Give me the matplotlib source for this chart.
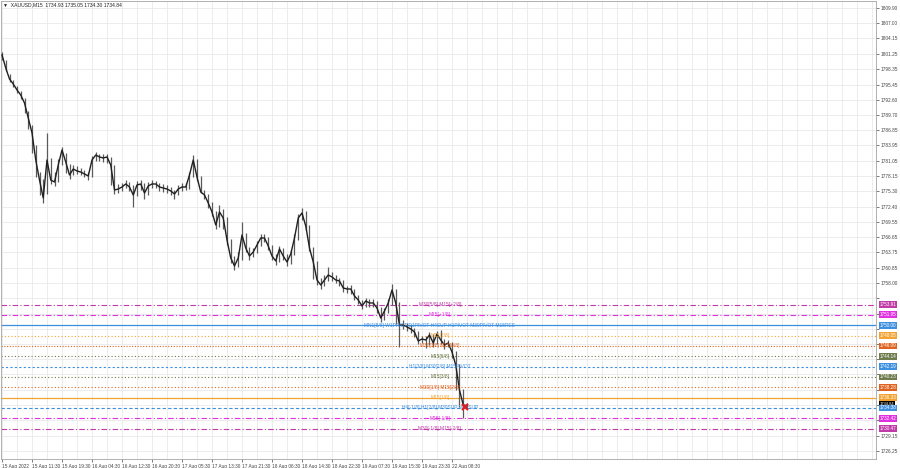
import numpy as np
import matplotlib
matplotlib.use('Agg')
import matplotlib.pyplot as plt
from matplotlib.ticker import MultipleLocator
from matplotlib.transforms import blended_transform_factory

plt.rcParams['font.family'] = ['Liberation Sans', 'DejaVu Sans']

# XAUUSD M15, one sample every 4 bars
close = [1801.03, 1798.57, 1796.49, 1795.55, 1794.42, 1793.47, 1791.96, 1789.13, 1786.30, 1781.20,
         1777.42, 1774.03, 1781.20, 1777.42, 1777.05, 1780.26, 1783.09, 1780.82, 1778.37, 1779.50,
         1779.12, 1778.93, 1778.56, 1778.18, 1781.20, 1782.14, 1781.77, 1781.58, 1781.77, 1780.26,
         1775.54, 1775.72, 1776.10, 1776.67, 1776.10, 1774.59, 1776.48, 1776.67, 1774.97, 1776.29,
         1776.67, 1776.67, 1776.10, 1775.91, 1775.72, 1775.35, 1774.78, 1775.72, 1776.10, 1776.10,
         1778.37, 1781.20, 1777.99, 1775.16, 1774.59, 1773.08, 1771.38, 1768.93, 1771.38, 1770.25,
         1766.09, 1762.70, 1761.19, 1762.70, 1767.04, 1764.58, 1763.07, 1763.83, 1765.15, 1766.47,
         1766.47, 1764.96, 1763.07, 1762.13, 1764.40, 1763.07, 1761.94, 1763.45, 1766.47, 1770.25,
         1771.19, 1768.74, 1764.58, 1761.94, 1758.54, 1757.60, 1758.54, 1759.49, 1759.11, 1758.54,
         1758.35, 1757.03, 1756.84, 1756.84, 1755.52, 1754.77, 1753.63, 1754.58, 1754.20, 1754.20,
         1753.25, 1751.37, 1752.69, 1754.20, 1756.65, 1754.20, 1750.04, 1750.04, 1749.67, 1749.29,
         1748.72, 1747.02, 1747.40, 1747.21, 1748.16, 1746.65, 1748.35, 1747.21, 1746.27, 1746.65,
         1744.95, 1742.49, 1737.77, 1734.94, 1734.84]
high = [1801.60, 1800.10, 1797.40, 1796.30, 1795.20, 1794.20, 1792.90, 1790.40, 1787.90, 1784.00,
        1778.90, 1777.60, 1786.30, 1781.50, 1779.00, 1781.40, 1783.65, 1782.60, 1780.40, 1780.30,
        1780.00, 1779.70, 1779.40, 1779.00, 1781.90, 1782.70, 1782.40, 1782.30, 1782.30, 1781.80,
        1780.30, 1776.60, 1776.90, 1777.40, 1777.00, 1776.40, 1777.20, 1777.40, 1776.80, 1777.00,
        1777.40, 1777.30, 1776.90, 1776.60, 1776.40, 1776.10, 1775.60, 1776.40, 1776.80, 1776.90,
        1778.90, 1782.14, 1781.40, 1778.20, 1775.60, 1774.80, 1773.20, 1771.50, 1772.70, 1771.90,
        1770.40, 1766.30, 1763.00, 1763.80, 1769.50, 1767.40, 1764.80, 1764.50, 1765.90, 1767.20,
        1767.30, 1766.60, 1765.10, 1763.40, 1765.00, 1764.60, 1763.40, 1764.20, 1767.20, 1771.00,
        1772.14, 1771.60, 1768.90, 1764.80, 1762.10, 1758.90, 1759.40, 1761.00, 1760.00, 1759.40,
        1759.00, 1758.50, 1757.50, 1757.60, 1756.90, 1755.80, 1754.80, 1755.20, 1755.00, 1754.90,
        1754.50, 1753.40, 1753.30, 1754.90, 1757.78, 1756.90, 1754.40, 1750.90, 1750.40, 1750.00,
        1749.50, 1748.90, 1748.00, 1747.90, 1748.70, 1748.30, 1748.90, 1749.10, 1747.40, 1747.20,
        1746.80, 1745.10, 1742.60, 1737.90, 1735.40]
low = [1800.00, 1798.00, 1795.90, 1794.90, 1793.80, 1792.80, 1790.00, 1787.00, 1782.50, 1778.00,
       1774.50, 1773.08, 1774.80, 1776.60, 1776.30, 1777.00, 1780.20, 1778.80, 1777.60, 1778.40,
       1778.50, 1778.30, 1777.90, 1777.50, 1778.00, 1781.10, 1781.00, 1780.90, 1780.60, 1776.50,
       1774.80, 1775.00, 1775.40, 1775.90, 1775.40, 1772.32, 1774.40, 1775.50, 1773.80, 1774.60,
       1776.00, 1775.90, 1775.40, 1775.20, 1775.00, 1774.60, 1773.80, 1774.50, 1775.40, 1775.50,
       1775.80, 1778.00, 1777.30, 1774.90, 1773.90, 1772.20, 1770.60, 1768.20, 1768.60, 1768.10,
       1765.20, 1761.80, 1760.43, 1761.00, 1762.40, 1763.80, 1762.40, 1762.80, 1763.60, 1765.00,
       1765.80, 1764.20, 1762.40, 1761.40, 1761.90, 1762.30, 1761.20, 1761.60, 1763.20, 1766.00,
       1769.80, 1768.00, 1764.00, 1758.80, 1757.60, 1756.90, 1757.40, 1758.30, 1758.40, 1757.90,
       1757.50, 1756.20, 1756.10, 1755.90, 1754.77, 1754.00, 1753.00, 1753.40, 1753.50, 1753.40,
       1752.40, 1750.60, 1751.00, 1752.40, 1753.90, 1750.20, 1745.89, 1749.30, 1748.90, 1748.60,
       1747.80, 1746.40, 1746.60, 1745.70, 1746.30, 1745.90, 1746.40, 1746.40, 1745.60, 1745.80,
       1743.90, 1737.80, 1734.60, 1732.48, 1734.30]
bar = np.arange(len(close)) * 4

date_labels = ["15 Aug 2022", "15 Aug 11:30", "15 Aug 19:30", "16 Aug 04:30", "16 Aug 12:30",
               "16 Aug 20:30", "17 Aug 05:30", "17 Aug 13:30", "17 Aug 21:30", "18 Aug 06:30",
               "18 Aug 14:30", "18 Aug 22:30", "19 Aug 07:30", "19 Aug 15:30", "19 Aug 23:30",
               "22 Aug 08:30"]
date_bars = np.arange(len(date_labels)) * 32

price_ticks = [1809.90, 1807.00, 1804.15, 1801.25, 1798.35, 1795.45, 1792.60, 1789.70, 1786.85,
               1783.95, 1781.05, 1778.15, 1775.30, 1772.40, 1769.55, 1766.65, 1763.75, 1760.85,
               1758.00, 1755.10, 1752.20, 1749.35, 1746.45, 1743.55, 1740.70, 1737.80, 1734.90,
               1732.05, 1729.15, 1726.25]

# murrey levels
levels = [1753.91, 1751.95, 1750.00, 1748.05, 1746.09, 1744.14, 1742.19,
          1740.23, 1738.28, 1736.33, 1734.38, 1732.42, 1730.47]
level_names = ["M30[5/8] M15[+2/8]", "M15[+1/8]",
               "MN1[8/8] W1PIVOT D1PIVOT H4SUP H1PIVOT M30PIVOT M15RES",
               "M15[7/8]", "M30[3/8] M15[6/8]", "M15[5/8]", "H1[3/8] M30[2/8] M15PIVOT",
               "M15[3/8]", "M30[1/8] M15[2/8]", "M15[1/8]", "H4[-1/8] H1[2/8] M30SUP M15SUP",
               "M15[-1/8]", "M30[-1/8] M15[-2/8]"]
level_colors = ['#c03aa8', '#e030e0', '#3d8fe0', '#f2a332', '#e0621f', '#6e7b4c', '#3d8fe0',
                '#6e7b4c', '#e0621f', '#f2a332', '#3d8fe0', '#e030e0', '#c03aa8']
level_styles = [(0, (5, 2, 1, 2)), (0, (5, 2, 1, 2)), '-', (0, (1, 2)), (0, (1, 1.5)),
                (0, (1, 2)), (0, (2, 2)), (0, (1, 2)), (0, (1, 2)), '-', (0, (3, 2)),
                (0, (5, 2, 1, 2)), (0, (5, 2, 1, 2))]

bid = 1734.84
trade_bar, trade_price = 494, 1734.6

fig = plt.figure(figsize=(9, 4.68), dpi=100)
ax = fig.add_axes([1 / 900, 9 / 468, 875 / 900, 458 / 468])
ax.set_xlim(-1.07, 932.3)
ax.set_ylim(1724.74, 1811.22)

# grey price labels that sit under a coloured level box are hidden, as in the terminal
boxes = levels + [bid]
tick_text = []
for p in price_ticks:
    if min(abs(p - b) for b in boxes) < 1.3:
        tick_text.append('')
    else:
        tick_text.append('%.2f' % p)

ax.xaxis.set_minor_locator(MultipleLocator(16))
ax.set_xticks(date_bars)
ax.set_xticklabels(date_labels, ha='left')
ax.set_yticks(price_ticks)
ax.set_yticklabels(tick_text)
ax.yaxis.tick_right()
ax.grid(True, which='both', color='#e9e9e9', lw=0.6)
ax.set_axisbelow(True)
ax.tick_params(axis='both', labelsize=3.4, colors='#444444', length=2, width=0.5, pad=1.5)
ax.tick_params(axis='x', which='minor', length=0)
for s in ax.spines.values():
    s.set_color('#b0b0b0')
    s.set_linewidth(0.7)

tr = blended_transform_factory(ax.transAxes, ax.transData)
for lv, name, col, ls in zip(levels, level_names, level_colors, level_styles):
    lw = 0.9 if ls == '-' else 0.8
    ax.axhline(lv, color=col, ls=ls, lw=lw, zorder=1)
    ax.text(467, lv, name, color=col, fontsize=3.5, ha='center', va='center', zorder=4)
    ax.text(1.004, lv, '%.2f' % lv, transform=tr, color='white', fontsize=3.3,
            ha='left', va='center', zorder=6, clip_on=False,
            bbox=dict(boxstyle='square,pad=0.2', fc=col, ec='none'))
# bid box peeks out above the 1734.38 box
ax.text(1.004, bid + 0.25, '%.2f' % bid, transform=tr, color='white', fontsize=3.0,
        ha='left', va='center', zorder=5, clip_on=False,
        bbox=dict(boxstyle='square,pad=0.2', fc='black', ec='none'))

ax.vlines(bar, low, high, color='#5a5a5a', lw=0.9, zorder=3)
ax.plot(bar, close, color='#202020', lw=1.0, zorder=3)
ax.plot(trade_bar, trade_price, marker='x', color='#e02020', ms=5, mew=1.6, zorder=5)

fig.text(3 / 900, 1 - 5 / 468, "\u25bc  XAUUSD,M15  1734.93 1735.05 1734.30 1734.84",
         fontsize=3.6, color='#222222', va='center', ha='left')

fig.savefig('out.png', dpi=100)
